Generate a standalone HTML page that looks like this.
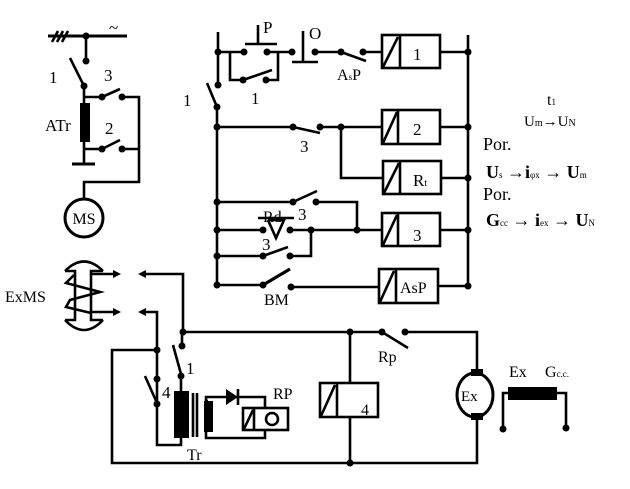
<!DOCTYPE html>
<html><head><meta charset="utf-8"><style>
html,body{margin:0;padding:0;background:#fff;}
svg{display:block;}
text{font-family:"Liberation Serif",serif;fill:#000;}
</style></head><body>
<svg width="630" height="489" viewBox="0 0 630 489" xmlns="http://www.w3.org/2000/svg">
<g stroke="#000" stroke-width="2.6" fill="none">
<line x1="48" y1="36" x2="127" y2="36" stroke-width="3"/>
<line x1="52" y1="42" x2="58" y2="31"/><line x1="57" y1="42" x2="63" y2="31"/><line x1="62" y1="42" x2="68" y2="31"/>
<line x1="86" y1="36" x2="86" y2="61"/>
<line x1="70" y1="58" x2="84" y2="86"/>
<polyline points="84,86 84,164"/>
<line x1="72" y1="164" x2="95" y2="164" stroke-width="3"/>
<polyline points="84,97 102,97"/><line x1="102" y1="97" x2="120" y2="89"/>
<polyline points="122,97 139,97 139,182 84,182 84,199"/>
<polyline points="84,149 102,149"/><line x1="102" y1="149" x2="120" y2="140"/>
<line x1="122" y1="149" x2="139" y2="149"/>
<circle cx="84" cy="218" r="19" stroke-width="3"/>

<line x1="217" y1="107" x2="217" y2="285"/>
<line x1="218" y1="32" x2="218" y2="85"/>
<line x1="207" y1="83" x2="217" y2="107"/>
<line x1="468" y1="35" x2="468" y2="285"/>
<line x1="218" y1="52" x2="244" y2="52"/><line x1="267" y1="52" x2="292" y2="52"/>
<line x1="245" y1="44" x2="277" y2="44"/><line x1="258" y1="44" x2="258" y2="25"/>
<polyline points="230,52 230,80 243,80"/><line x1="243" y1="80" x2="272" y2="70"/>
<polyline points="266,80 278,80 278,52"/>
<line x1="303" y1="31" x2="303" y2="62"/><line x1="292" y1="62" x2="318" y2="62"/>
<line x1="315" y1="52" x2="341" y2="52"/><line x1="341" y1="52" x2="366" y2="61"/>
<line x1="363" y1="52" x2="382" y2="52"/>
<rect x="382" y="35" width="58" height="33"/><line x1="400" y1="35" x2="400" y2="68"/><line x1="383" y1="67" x2="398" y2="37"/>
<line x1="440" y1="52" x2="468" y2="52"/>
<line x1="217" y1="127" x2="293" y2="127"/><line x1="293" y1="127" x2="320" y2="133"/>
<line x1="320" y1="127" x2="382" y2="127"/>
<rect x="382" y="110" width="58" height="34"/><line x1="398" y1="110" x2="398" y2="144"/><line x1="383" y1="143" x2="397" y2="112"/>
<line x1="440" y1="127" x2="468" y2="127"/>
<polyline points="341,127 341,178 383,178"/>
<rect x="383" y="161" width="58" height="33"/><line x1="400" y1="161" x2="400" y2="194"/><line x1="384" y1="193" x2="399" y2="163"/>
<line x1="441" y1="178" x2="468" y2="178"/>
<line x1="217" y1="202" x2="293" y2="202"/><line x1="293" y1="202" x2="317" y2="191"/>
<polyline points="316,202 357,202 357,230"/>
<line x1="217" y1="230" x2="263" y2="230"/>
<line x1="258" y1="218" x2="294" y2="218"/>
<polyline points="268,220 284,220 276,238 268,220"/>
<line x1="290" y1="230" x2="382" y2="230"/>
<rect x="382" y="213" width="58" height="33"/><line x1="398" y1="213" x2="398" y2="246"/><line x1="383" y1="245" x2="397" y2="215"/>
<line x1="440" y1="230" x2="468" y2="230"/>
<line x1="217" y1="256" x2="263" y2="256"/><line x1="263" y1="256" x2="288" y2="247"/>
<polyline points="290,256 311,256 311,230"/>
<line x1="217" y1="285" x2="263" y2="285"/><line x1="263" y1="285" x2="290" y2="269" stroke-width="3.2"/>
<line x1="291" y1="287" x2="379" y2="287"/>
<rect x="379" y="269" width="59" height="34"/><line x1="396" y1="269" x2="396" y2="303"/><line x1="380" y1="302" x2="394" y2="271"/>
<line x1="438" y1="286" x2="468" y2="286"/>

<path d="M65,271 Q84,252 103,271" />
<path d="M65,320 Q84,340 103,320" />
<polyline points="65,271 75,271 75,320 65,320"/>
<polyline points="103,271 91,271 91,320 103,320"/>
<polyline points="74,275 66,283 100,292 70,300 66,307 91,313"/>
<line x1="91" y1="274" x2="115" y2="274"/><line x1="91" y1="312" x2="115" y2="312"/>
<polyline points="144,274 183,274 183,332"/>
<polyline points="144,312 157,312 157,403"/>

<line x1="183" y1="332" x2="382" y2="332"/>
<line x1="382" y1="332" x2="408" y2="348"/>
<polyline points="405,332 477,332 477,372"/>
<polyline points="477,417 477,463 112,463 112,350 157,350"/>
<line x1="350" y1="332" x2="350" y2="383"/><line x1="350" y1="417" x2="350" y2="463"/>
<rect x="320" y="383" width="58" height="34"/><line x1="337" y1="383" x2="337" y2="417"/><line x1="321" y1="416" x2="335" y2="385"/>
<line x1="182" y1="332" x2="182" y2="346"/>
<line x1="173" y1="345" x2="181" y2="374"/>
<line x1="181" y1="376" x2="181" y2="391"/>
<line x1="145" y1="376" x2="157" y2="403"/>
<polyline points="157,404 157,445 181,445 181,438"/>
<line x1="193" y1="393" x2="193" y2="437"/><line x1="197" y1="393" x2="197" y2="437"/>
<polyline points="208,401 206,401 206,397 265,397 265,408"/>
<polyline points="265,430 265,438 206,438 206,432"/>
<rect x="243" y="408" width="45" height="22"/><line x1="254" y1="408" x2="254" y2="430"/><line x1="244" y1="429" x2="253" y2="410"/>
<circle cx="272" cy="419" r="6"/>
<line x1="238" y1="389" x2="238" y2="405"/>
<ellipse cx="475" cy="395" rx="18" ry="22" stroke-width="3"/>
<polyline points="508,393 503,393 503,429"/>
<polyline points="557,393 566,393 566,428"/>
</g>
<g fill="#000">
<circle cx="86" cy="36" r="3.5"/><circle cx="86" cy="61" r="3.5"/><circle cx="84" cy="86" r="3.5"/>
<circle cx="102" cy="97" r="3.5"/><circle cx="122" cy="97" r="3.5"/><circle cx="102" cy="149" r="3.5"/><circle cx="122" cy="149" r="3.5"/>
<rect x="80" y="103" width="10" height="39"/>
<circle cx="218" cy="52" r="3.5"/><circle cx="218" cy="85" r="3.5"/><circle cx="217" cy="107" r="3.5"/>
<circle cx="244" cy="52" r="3.5"/><circle cx="267" cy="52" r="3.5"/><circle cx="292" cy="52" r="3.5"/><circle cx="315" cy="52" r="3.5"/>
<circle cx="243" cy="80" r="3.5"/><circle cx="266" cy="80" r="3.5"/>
<circle cx="341" cy="52" r="3.5"/><circle cx="363" cy="52" r="3.5"/><circle cx="468" cy="52" r="3.5"/>
<circle cx="217" cy="127" r="3.5"/><circle cx="293" cy="127" r="3.5"/><circle cx="320" cy="127" r="3.5"/><circle cx="341" cy="127" r="3.5"/><circle cx="468" cy="127" r="3.5"/><circle cx="468" cy="178" r="3.5"/>
<circle cx="217" cy="202" r="3.5"/><circle cx="293" cy="202" r="3.5"/><circle cx="316" cy="202" r="3.5"/>
<circle cx="217" cy="230" r="3.5"/><circle cx="263" cy="230" r="3.5"/><circle cx="290" cy="230" r="3.5"/><circle cx="311" cy="230" r="3.5"/><circle cx="357" cy="230" r="3.5"/><circle cx="468" cy="230" r="3.5"/>
<circle cx="217" cy="256" r="3.5"/><circle cx="263" cy="256" r="3.5"/><circle cx="290" cy="256" r="3.5"/>
<circle cx="217" cy="285" r="3.5"/><circle cx="263" cy="285" r="3.5"/><circle cx="291" cy="287" r="3.5"/><circle cx="468" cy="286" r="3.5"/>
<polygon points="121,274 113,270 113,278"/><polygon points="121,312 113,308 113,316"/>
<polygon points="138,274 146,270 146,278"/><polygon points="138,312 146,308 146,316"/>
<circle cx="183" cy="332" r="3.5"/><circle cx="350" cy="332" r="3.5"/><circle cx="382" cy="332" r="3.5"/><circle cx="405" cy="332" r="3.5"/>
<circle cx="182" cy="346" r="3.5"/><circle cx="181" cy="376" r="3.5"/>
<circle cx="157" cy="350" r="3.5"/><circle cx="157" cy="379" r="3.5"/><circle cx="157" cy="404" r="3.5"/>
<circle cx="350" cy="463" r="3.5"/>
<rect x="174" y="391" width="15" height="47"/>
<rect x="204" y="401" width="9" height="31"/>
<polygon points="226,389 226,405 238,397"/>
<rect x="471" y="369" width="12" height="7"/><rect x="471" y="413" width="12" height="7"/>
<rect x="508" y="387" width="49" height="13"/>
<circle cx="503" cy="429" r="3.5"/><circle cx="566" cy="428" r="3.5"/>
</g>
<g font-size="17">
<text x="109" y="33">~</text>
<text x="49" y="83">1</text><text x="104" y="81">3</text><text x="105" y="134">2</text>
<text x="45" y="131">ATr</text>
<text x="84" y="224" font-size="16" text-anchor="middle">MS</text>
<text x="263" y="33">P</text><text x="309" y="39">O</text>
<text x="251" y="104">1</text><text x="183" y="106">1</text>
<text x="337" y="80" font-size="16">A<tspan font-size="9">s</tspan>P</text>
<text x="413" y="60">1</text><text x="413" y="135">2</text><text x="413" y="241">3</text>
<text x="413" y="186">R<tspan font-size="10">t</tspan></text>
<text x="400" y="293" font-size="16">AsP</text>
<text x="300" y="152">3</text><text x="298" y="220">3</text><text x="262" y="250">3</text>
<text x="263" y="222" font-size="16">Rd</text>
<text x="264" y="305" font-size="16">BM</text>
<text x="5" y="302" font-size="16">ExMS</text>
<text x="186" y="374">1</text><text x="162" y="398">4</text>
<text x="187" y="460" font-size="16">Tr</text>
<text x="273" y="399" font-size="16">RP</text>
<text x="361" y="415" font-size="16">4</text>
<text x="378" y="362" font-size="16">Rp</text>
<text x="461" y="401" font-size="15">Ex</text>
<text x="509" y="377" font-size="16">Ex</text>
<text x="545" y="377" font-size="16">G<tspan font-size="9">c.c.</tspan></text>
<text x="547" y="105" font-size="16">t<tspan font-size="9">1</tspan></text>
<text x="524" y="126" font-size="15">U<tspan font-size="10">m</tspan>→U<tspan font-size="10">N</tspan></text>
<text x="483" y="150" font-size="18">Por.</text>
<text x="486" y="178" font-weight="bold" font-size="18">U<tspan font-size="9" font-weight="normal">s</tspan> →i<tspan font-size="9" font-weight="normal">φx</tspan> → U<tspan font-size="9" font-weight="normal">m</tspan></text>
<text x="483" y="200" font-size="18">Por.</text>
<text x="486" y="226" font-weight="bold" font-size="18">G<tspan font-size="9" font-weight="normal">cc</tspan> → i<tspan font-size="9" font-weight="normal">ex</tspan> → U<tspan font-size="9" font-weight="normal">N</tspan></text>
</g>
</svg>
</body></html>
